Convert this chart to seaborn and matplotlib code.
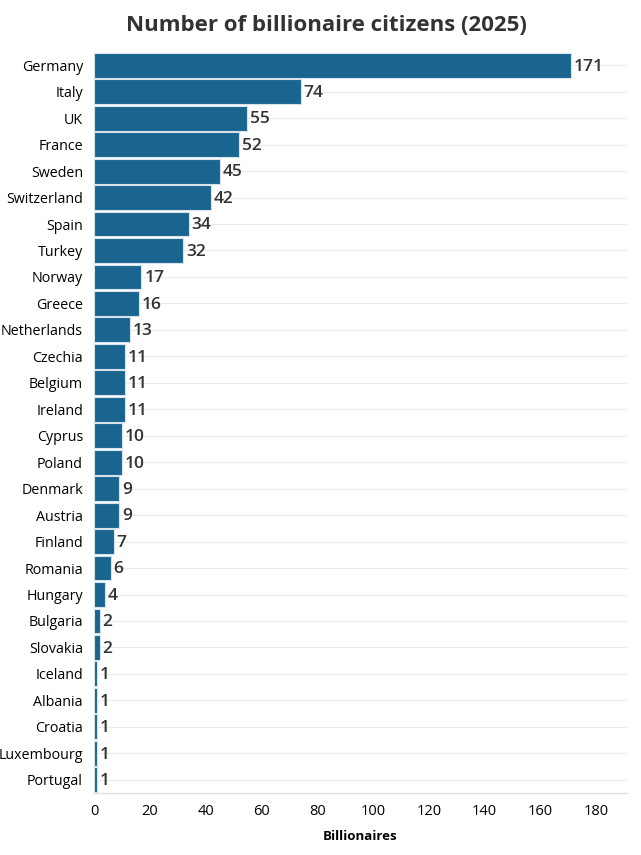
import matplotlib
matplotlib.use("Agg")
import matplotlib.pyplot as plt
import seaborn as sns
import pandas as pd

# Dados
paises = ["Germany", "Italy", "UK", "France", "Sweden", "Switzerland", "Spain",
          "Turkey", "Norway", "Greece", "Netherlands", "Czechia", "Belgium",
          "Ireland", "Cyprus", "Poland", "Denmark", "Austria", "Finland",
          "Romania", "Hungary", "Bulgaria", "Slovakia", "Iceland", "Albania",
          "Croatia", "Luxembourg", "Portugal"]
bilionarios = [171, 74, 55, 52, 45, 42, 34, 32, 17, 16, 13, 11, 11, 11, 10, 10,
               9, 9, 7, 6, 4, 2, 2, 1, 1, 1, 1, 1]
x_ticks = [0, 20, 40, 60, 80, 100, 120, 140, 160, 180]

COR_BARRA = "#1a6590"
COR_TEXTO = "#333333"

sns.set_style("white")
plt.rcParams["font.family"] = ["Open Sans", "DejaVu Sans"]

df = pd.DataFrame({"pais": paises, "valor": bilionarios})

fig = plt.figure(figsize=(6.41, 8.55), dpi=100)
ax = fig.add_axes([94 / 641, 1 - 793 / 855, (627 - 94) / 641, (793 - 52) / 855])

# gridlines horizontais por categoria
for i in range(len(paises)):
    ax.axhline(i, color="#ebebeb", lw=0.8, zorder=0)

sns.barplot(df, x="valor", y="pais", color=COR_BARRA, saturation=1,
            width=0.94, edgecolor="#d6e2ec", linewidth=0.8, ax=ax, zorder=2)

for i, v in enumerate(bilionarios):
    ax.text(v + 1.0, i + 0.05, str(v), va="center", ha="left", fontsize=12.5,
            fontweight="semibold", color=COR_TEXTO)

ax.set_xlim(0, 191)
ax.set_ylim(len(paises) - 0.5, -0.5)
ax.set_xticks(x_ticks)
ax.set_xlabel("Billionaires", fontsize=9.5, fontweight="bold", color="black", labelpad=8)
ax.set_ylabel("")
ax.tick_params(axis="y", length=6, color="#e0e0e0", labelsize=10.3, pad=2, labelcolor="black")
ax.tick_params(axis="x", length=5, color="#e0e0e0", labelsize=10.5, pad=3, labelcolor="black")
for s in ["top", "right", "left"]:
    ax.spines[s].set_visible(False)
ax.spines["bottom"].set_color("#e0e0e0")
ax.spines["bottom"].set_linewidth(1)

fig.suptitle("Number of billionaire citizens (2025)", x=0.51, y=0.983,
             fontsize=16, fontweight="bold", color=COR_TEXTO)

fig.savefig("out.png", dpi=100)
